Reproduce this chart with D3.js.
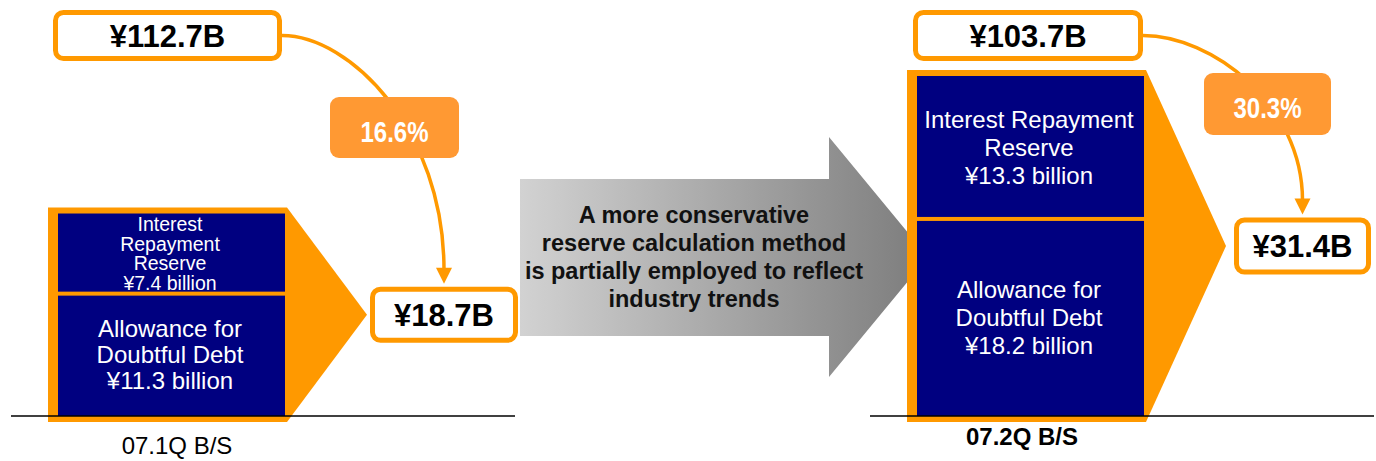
<!DOCTYPE html>
<html>
<head>
<meta charset="utf-8">
<script src="https://cdn.jsdelivr.net/npm/d3@7/dist/d3.min.js"></script>
<style>
  body { margin: 0; background: #fff; }
  svg { display: block; font-family: "Liberation Sans", Arial, sans-serif; }
</style>
</head>
<body>
<svg id="chart" width="1376" height="461"></svg>
<script>
// data (billions of yen)
const periods = ["07.1Q B/S", "07.2Q B/S"];
const interestReserve = [7.4, 13.3];
const doubtfulDebt = [11.3, 18.2];
const totalReserve = [18.7, 31.4];
const loanTotal = [112.7, 103.7];
const coverageRate = [16.6, 30.3];
const noteLines = ["A more conservative", "reserve calculation method", "is partially employed to reflect", "industry trends"];

// layout per block (positions only)
const layout = [
  { irLines: ["Interest", "Repayment", "Reserve"], irSize: 19.5, irLh: 19.5, ddSize: 24, ddLh: 26,
    topBox: [53, 10, 229, 51], pctBox: [330, 97, 129, 61], resDx: 3, resW: 148, resH: 56,
    label: [177, 454], labelSize: 24, labelBold: false, c1: 68, c2: 0.38 },
  { irLines: ["Interest Repayment", "Reserve"], irSize: 24, irLh: 28, ddSize: 24, ddLh: 28,
    topBox: [913, 10, 230, 51], pctBox: [1204, 73, 127, 62], resDx: 8, resW: 137, resH: 57,
    label: [1022, 445], labelSize: 24, labelBold: true, c1: 68, c2: 0.38 }
];

const orange = "#ff9900";
const navy = "#000080";
const baseY = 416;
const barW = 227;

const svg = d3.select("#chart");

const y = d3.scaleLinear().domain([0, d3.max(totalReserve)]).range([baseY, 76]);
const x = d3.scalePoint().domain(periods).range([58, 917]);

// gradient for middle arrow
const grad = svg.append("defs").append("linearGradient")
  .attr("id", "grayGrad").attr("x1", "0%").attr("x2", "100%");
grad.append("stop").attr("offset", "0%").attr("stop-color", "#d2d2d2");
grad.append("stop").attr("offset", "100%").attr("stop-color", "#7c7c7c");

// big gray arrow
svg.append("polygon")
  .attr("points", [[520, 179], [829, 179], [829, 137], [928, 257], [829, 377], [829, 336], [520, 336]].join(" "))
  .attr("fill", "url(#grayGrad)");

svg.append("text")
  .attr("text-anchor", "middle")
  .attr("font-weight", "bold")
  .attr("font-size", 23.5)
  .attr("fill", "#111")
  .selectAll("tspan")
  .data(noteLines)
  .join("tspan")
  .attr("x", 694)
  .attr("y", (d, i) => 223 + i * 28)
  .text((d) => d);

function multiline(g, lines, cx, cy, size, lh, weight, color) {
  const first = cy + size * 0.35 - ((lines.length - 1) / 2) * lh;
  g.append("text")
    .attr("text-anchor", "middle")
    .attr("font-size", size)
    .attr("font-weight", weight)
    .attr("fill", color)
    .selectAll("tspan")
    .data(lines)
    .join("tspan")
    .attr("x", cx)
    .attr("y", (d, i) => first + i * lh)
    .text((d) => d);
}

periods.forEach((p, i) => {
  const L = layout[i];
  const bx = x(p);
  const yTop = y(totalReserve[i]);
  const ySplit = y(doubtfulDebt[i]);
  const tipX = bx + 309;
  const tipY = (yTop - 6 + baseY + 6) / 2;
  const g = svg.append("g");

  // orange pentagon behind the stacked bar
  g.append("polygon")
    .attr("points", [[bx - 10, yTop - 6], [bx + 229, yTop - 6], [tipX, tipY], [bx + 229, baseY + 6], [bx - 10, baseY + 6]].join(" "))
    .attr("fill", orange);

  // stacked segments
  g.append("rect").attr("x", bx).attr("y", yTop).attr("width", barW).attr("height", ySplit - 2 - yTop).attr("fill", navy);
  g.append("rect").attr("x", bx).attr("y", ySplit + 2).attr("width", barW).attr("height", baseY - ySplit - 2).attr("fill", navy);

  multiline(g, L.irLines.concat(["¥" + interestReserve[i] + " billion"]), bx + 112, (yTop + ySplit) / 2, L.irSize, L.irLh, "normal", "#fff");
  multiline(g, ["Allowance for", "Doubtful Debt", "¥" + doubtfulDebt[i] + " billion"], bx + 112, (ySplit + baseY) / 2, L.ddSize, L.ddLh, "normal", "#fff");

  // baseline
  g.append("line")
    .attr("x1", bx - 47).attr("x2", bx + 457)
    .attr("y1", baseY).attr("y2", baseY)
    .attr("stroke", "#000").attr("stroke-width", 1.5);

  // period label
  g.append("text")
    .attr("x", L.label[0]).attr("y", L.label[1])
    .attr("text-anchor", "middle")
    .attr("font-size", L.labelSize)
    .attr("font-weight", L.labelBold ? "bold" : "normal")
    .text(p);

  // result box
  const rx0 = tipX + L.resDx;
  const ry0 = tipY - L.resH / 2;
  const ax = rx0 + L.resW / 2;
  const ay = ry0 - 3;

  // curve from top box to result box
  const [tx, ty, tw, th] = L.topBox;
  const sx = tx + tw;
  const sy = ty + th / 2;
  const path = d3.path();
  path.moveTo(sx, sy);
  path.bezierCurveTo(sx + L.c1, sy, ax, sy + L.c2 * (ay - sy), ax, ay - 14);
  g.append("path").attr("d", path.toString())
    .attr("fill", "none").attr("stroke", orange).attr("stroke-width", 3.5);
  g.append("polygon")
    .attr("points", [[ax - 8, ay - 16], [ax + 8, ay - 16], [ax, ay]].join(" "))
    .attr("fill", orange);

  // top total box
  g.append("rect")
    .attr("x", tx + 2.5).attr("y", ty + 2.5).attr("width", tw - 5).attr("height", th - 5)
    .attr("rx", 8).attr("fill", "#fff").attr("stroke", orange).attr("stroke-width", 5);
  g.append("text")
    .attr("x", tx + tw / 2).attr("y", ty + th / 2 + 11)
    .attr("text-anchor", "middle").attr("font-weight", "bold").attr("font-size", 31)
    .text("¥" + loanTotal[i] + "B");

  // percentage box (condensed bold text)
  const [px, py, pw, ph] = L.pctBox;
  g.append("rect")
    .attr("x", px).attr("y", py).attr("width", pw).attr("height", ph)
    .attr("rx", 9).attr("fill", "#ff9933");
  g.append("text")
    .attr("transform", "translate(" + (px + pw / 2) + "," + (py + ph / 2 + 14) + ") scale(0.8,1)")
    .attr("text-anchor", "middle").attr("font-weight", "bold").attr("font-size", 30)
    .attr("fill", "#fff")
    .text(coverageRate[i] + "%");

  g.append("rect")
    .attr("x", rx0 + 2.5).attr("y", ry0 + 2.5).attr("width", L.resW - 5).attr("height", L.resH - 5)
    .attr("rx", 8).attr("fill", "#fff").attr("stroke", orange).attr("stroke-width", 5);
  g.append("text")
    .attr("x", rx0 + L.resW / 2).attr("y", ry0 + L.resH / 2 + 11)
    .attr("text-anchor", "middle").attr("font-weight", "bold").attr("font-size", 31)
    .text("¥" + totalReserve[i] + "B");
});
</script>
</body>
</html>
